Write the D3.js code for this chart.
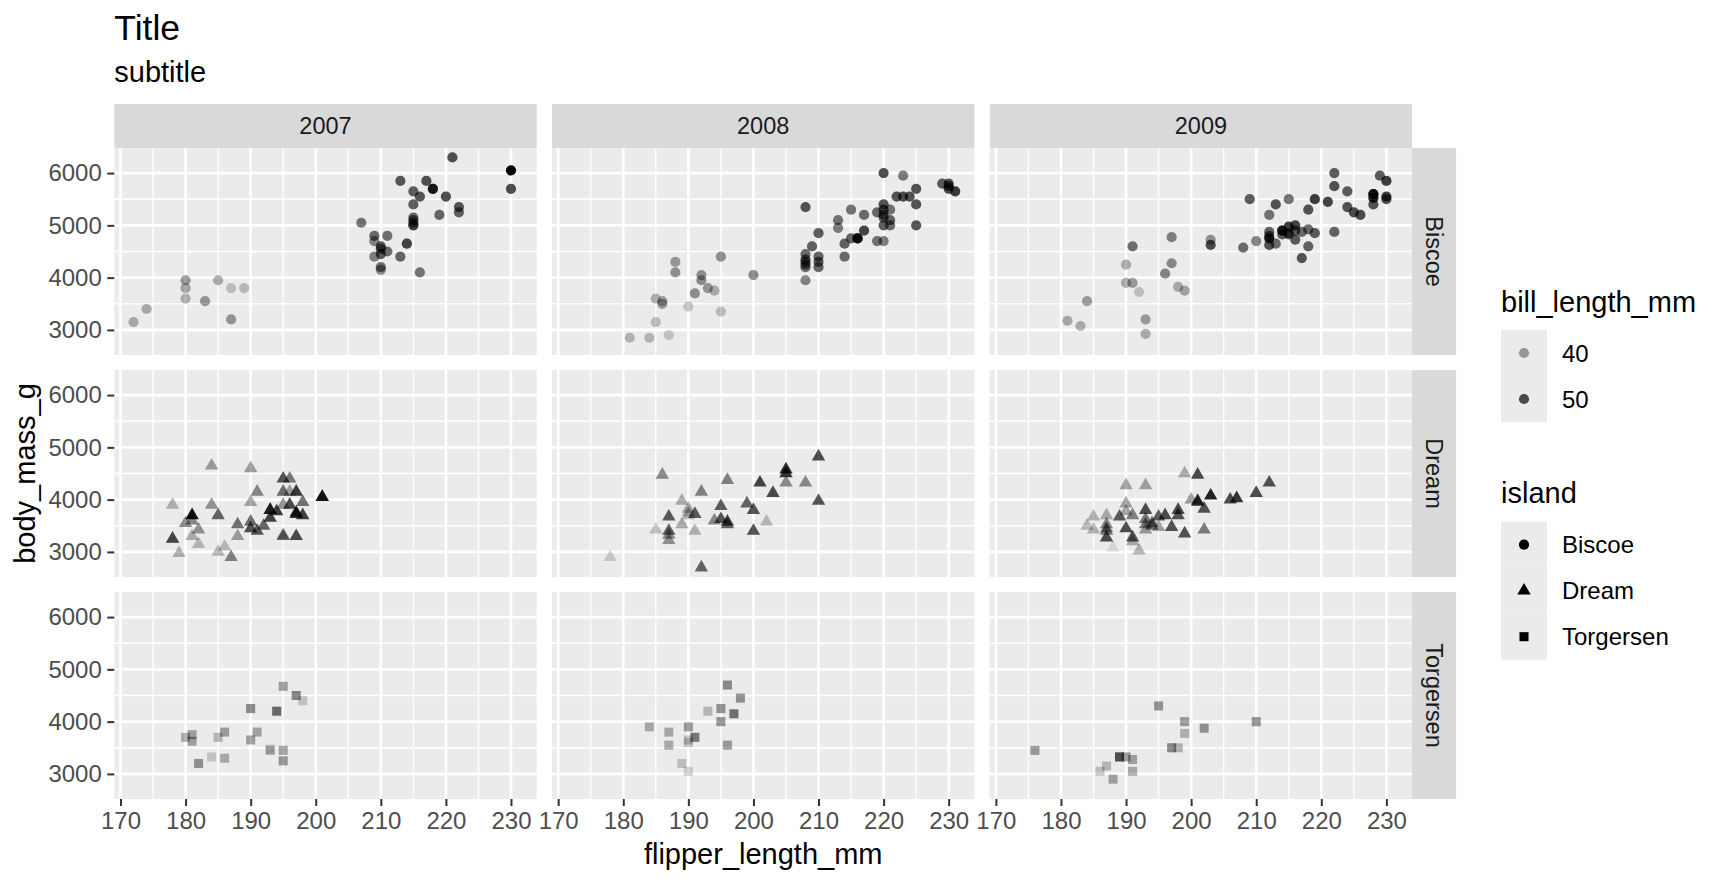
<!DOCTYPE html>
<html>
<head>
<meta charset="utf-8">
<script src="https://cdn.jsdelivr.net/npm/d3@7"></script>
<style>
  body { margin: 0; background: #fff; }
  text { font-family: "Liberation Sans", Arial, Helvetica, sans-serif; }
</style>
</head>
<body>
<div id="container"></div>
<script>
/* DATA */
const years = [2007, 2008, 2009];
const islands = ["Biscoe", "Dream", "Torgersen"];
const xTicks = [170, 180, 190, 200, 210, 220, 230];
const yTicks = [3000, 4000, 5000, 6000];
const billBreaks = [40, 50];

// each point: [flipper_length_mm, body_mass_g, bill_length_mm]
const biscoe2007 = [
  [174,3400,37.8],[180,3600,37.7],[189,3800,35.9],[185,3950,38.2],[180,3800,38.8],
  [187,3800,35.3],[183,3550,40.6],[187,3200,40.5],[172,3150,37.9],[180,3950,40.5],
  [211,4500,46.1],[230,5700,50.0],[210,4450,48.7],[218,5700,50.0],[215,5400,47.6],
  [210,4550,46.5],[211,4800,45.4],[219,5200,46.7],[209,4400,43.3],[215,5150,46.8],
  [214,4650,40.9],[216,5550,49.0],[214,4650,45.5],[213,5850,48.4],[210,4200,45.8],
  [217,5850,49.3],[210,4150,42.0],[221,6300,49.2],[209,4800,46.2],[222,5350,48.7],
  [218,5700,50.2],[215,5000,45.1],[213,4400,46.5],[215,5050,46.3],[215,5000,42.9],
  [215,5100,46.1],[216,4100,44.5],[215,5650,47.8],[210,4600,48.2],[220,5550,50.0],
  [222,5250,47.3],[209,4700,42.8],[207,5050,45.1],[230,6050,59.6]
];
const biscoe2008 = [
  [186,3500,39.6],[188,4300,40.1],[190,3450,35.0],[200,4050,42.0],[187,2900,34.5],
  [191,3700,41.4],[186,3550,39.0],[193,3800,40.6],[181,2850,36.5],[194,3750,37.6],
  [185,3150,35.7],[195,4400,41.3],[185,3600,37.6],[192,4050,41.1],[184,2850,36.4],
  [192,3950,41.6],[195,3350,35.5],[188,4100,41.1],
  [208,5350,49],[208,4450,46],[208,4350,47],[208,4250,45],[208,4200,46],[208,3950,43],
  [208,4300,46],[210,4400,47],[210,4300,48],[210,4200,47],[209,4600,47],[210,4850,48],
  [214,4650,47],[214,4400,46],[213,5100,45],[213,4950,44],[215,5300,45],[215,4750,47],
  [216,4750,55],[216,4750,50],[217,4900,51],[217,5200,46],[219,4700,45],[220,4700,44],
  [219,5250,46],[220,6000,50],[220,5400,49],[220,5300,49],[220,5200,48],[220,5150,47],
  [220,5000,48],[221,5300,45],[221,5100,47],[221,5000,46],[223,5950,44],[222,5550,49],
  [223,5550,50],[224,5550,49],[225,5700,49],[225,5400,49],[225,5000,49],[229,5800,48],
  [230,5800,49],[230,5750,50],[230,5700,50],[231,5650,52]
];
const biscoe2009 = [
  [192,3725,35.0],[203,4725,41.0],[183,3075,37.7],[190,4250,37.8],[193,2925,37.9],
  [184,3550,39.7],[199,3750,38.6],[190,3900,38.2],[181,3175,38.1],[197,4775,43.2],
  [198,3825,38.1],[191,4600,45.6],[193,3200,39.7],[197,4275,42.2],[191,3900,39.6],
  [196,4075,42.7],
  [203,4625,50],[208,4575,46],[210,4700,43],[209,5500,48],[212,5200,45],[212,4875,47],
  [212,4750,54],[212,4625,49],[212,4800,47],[213,4650,46],[213,5400,49],[214,4900,52],
  [214,4825,48],[214,4900,48],[215,4975,52],[215,5500,45],[215,4825,48],[215,4850,47],
  [216,5000,51],[216,4725,48],[216,4900,48],[217,4875,46],[217,4375,49],[218,5300,49],
  [218,4925,46],[218,4600,47],[219,5500,52],[219,4850,48],[221,5450,51],[222,6000,48],
  [222,5750,49],[222,4875,47],[224,5650,48],[224,5350,49],[225,5250,50],[226,5200,50],
  [228,5600,53],[228,5525,55],[228,5400,49],[228,5600,52],[229,5950,48],[230,5850,52],
  [230,5550,52],[230,5500,49]
];
const dream2007 = [
  [178,3250,39.5],[178,3900,37.2],[188,3300,39.5],[184,3900,40.9],[195,3325,36.4],
  [196,4150,39.2],[190,3950,38.8],[180,3550,42.2],[181,3300,37.6],[184,4650,39.8],
  [182,3150,36.5],[195,3900,40.8],[186,3100,36.0],[196,4400,44.1],[185,3000,37.0],
  [190,4600,39.6],[182,3425,41.1],[179,2975,37.5],[190,3450,36.0],[191,4150,42.3],
  [192,3500,46.5],[196,3900,50.0],[193,3650,51.3],[188,3525,45.4],[197,3725,52.7],
  [198,3950,45.2],[178,3250,46.1],[197,3750,51.3],[195,4150,46.0],[198,3700,51.3],
  [193,3800,46.6],[194,3775,51.7],[185,3700,47.0],[201,4050,52.0],[190,3575,45.9],
  [201,4050,50.5],[197,3300,50.3],[181,3700,58.0],[190,3450,46.4],[195,4400,49.2],
  [181,3600,42.4],[191,3400,48.5],[187,2900,43.2],[193,3800,50.6],[195,3300,46.7],
  [197,4150,52.0]
];
const dream2008 = [
  [178,2900,34],[186,4475,42],[196,4375,43],[192,4150,43],[189,3975,38],[190,3825,38],
  [190,3750,37],[190,3700,36],[191,3725,48],[187,3675,48],[185,3425,35],[187,3400,47],
  [187,3325,42],[187,3225,41],[189,3525,38],[191,3400,37],[195,3875,48],[194,3600,42],
  [195,3625,49],[196,3575,50],[196,3525,47],[192,2700,46.9],[199,3925,47],[200,3800,49],
  [200,3400,49],[202,3575,36],[201,4325,51],[203,4125,50],[205,4575,54],[205,4500,53],
  [205,4325,42],[208,4325,42],[210,4825,50],[210,3975,49]
];
const dream2009 = [
  [199,4500,38],[201,4475,50],[190,4275,39],[193,4275,39],[212,4325,49],[210,4125,50],
  [203,4075,55],[206,4000,50],[207,4025,53],[200,4000,40],[201,3975,50],[201,3950,48],
  [202,3825,49],[190,3925,39],[190,3775,39],[193,3800,50],[198,3800,50],[198,3700,49],
  [196,3700,50],[195,3675,48],[189,3675,48],[187,3700,38],[185,3675,37],[184,3500,36],
  [185,3425,37],[187,3525,42],[187,3450,43],[187,3400,44],[187,3275,50],[190,3450,50],
  [191,3275,49],[191,3200,38],[192,3025,37],[188,3075,32.1],[193,3625,44],[193,3525,44],
  [193,3425,40],[194,3550,44],[194,3500,45],[195,3475,39],[197,3475,49],[199,3350,49],
  [202,3425,44],[191,3700,43]
];
const torgersen2007 = [
  [181,3750,39.1],[186,3800,39.5],[195,3250,40.3],[193,3450,36.7],[190,3650,39.3],
  [181,3625,38.9],[195,4675,39.2],[193,3475,34.1],[190,4250,42.0],[186,3300,37.8],
  [180,3700,37.8],[182,3200,41.1],[191,3800,38.6],[198,4400,34.6],[185,3700,36.6],
  [195,3450,38.7],[197,4500,42.5],[184,3325,34.4],[194,4200,46.0]
];
const torgersen2008 = [
  [196,4700,42],[198,4450,41],[195,4250,41],[193,4200,36],[197,4150,45],[195,4000,41],
  [184,3900,38],[187,3800,38],[190,3900,40],[190,3650,35],[191,3700,44],[190,3600,35],
  [187,3550,38],[196,3550,40],[189,3200,35],[190,3050,34]
];
const torgersen2009 = [
  [176,3450,40],[195,4300,41],[199,4000,40],[199,3775,37],[202,3875,41],[210,4000,41],
  [197,3500,42],[198,3500,37],[189,3325,43],[189,3325,41],[190,3325,40],[191,3275,39],
  [191,3050,38],[187,3150,36],[186,3050,35],[188,2900,39]
];

const facetData = {
  Biscoe:    { 2007: biscoe2007,    2008: biscoe2008,    2009: biscoe2009 },
  Dream:     { 2007: dream2007,     2008: dream2008,     2009: dream2009 },
  Torgersen: { 2007: torgersen2007, 2008: torgersen2008, 2009: torgersen2009 }
};

/* LAYOUT */
const width = 1728, height = 883;
const panelLeft = 114.3, panelTop = 148;
const panelW = 422.4, panelH = 207;
const colGap = 15.3, rowGap = 15, stripSize = 44;
const font = '"Liberation Sans", Arial, Helvetica, sans-serif';

const all = [];
islands.forEach(island => years.forEach(year => {
  facetData[island][year].forEach(d => all.push({ island, year, flipper: d[0], mass: d[1], bill: d[2] }));
}));

// ggplot style 5% expansion
function expand(ext) {
  const p = (ext[1] - ext[0]) * 0.05;
  return [ext[0] - p, ext[1] + p];
}

/* SCALES */
const x = d3.scaleLinear().domain(expand(d3.extent(all, d => d.flipper))).range([0, panelW]);
const y = d3.scaleLinear().domain(expand(d3.extent(all, d => d.mass))).range([panelH, 0]);
const alpha = d3.scaleLinear().domain(d3.extent(all, d => d.bill)).range([0.1, 1]);
const shape = d3.scaleOrdinal().domain(islands).range([d3.symbolCircle, d3.symbolTriangle, d3.symbolSquare]);
const shapeSize = d3.scaleOrdinal().domain(islands).range([82, 78, 82]);

const inside = (s, v) => v > s.domain()[0] && v < s.domain()[1];
const xMinor = xTicks.slice(0, -1).map((t, i) => (t + xTicks[i + 1]) / 2)
  .concat([xTicks[0] - 5, xTicks[xTicks.length - 1] + 5]).filter(v => inside(x, v));
const yMinor = yTicks.slice(0, -1).map((t, i) => (t + yTicks[i + 1]) / 2)
  .concat([yTicks[0] - 500, yTicks[yTicks.length - 1] + 500]).filter(v => inside(y, v));

const colX = c => panelLeft + c * (panelW + colGap);
const rowY = r => panelTop + r * (panelH + rowGap);

/* SVG */
const svg = d3.select("#container").append("svg")
  .attr("width", width).attr("height", height)
  .style("font-family", font);

// title + subtitle
svg.append("text").attr("x", panelLeft).attr("y", 40)
  .style("font-size", "35.5px").attr("fill", "#000").text("Title");
svg.append("text").attr("x", panelLeft).attr("y", 82)
  .style("font-size", "29px").attr("fill", "#000").text("subtitle");

// panels
islands.forEach((island, r) => {
  years.forEach((year, c) => {
    const g = svg.append("g").attr("transform", `translate(${colX(c)},${rowY(r)})`);
    g.append("rect").attr("width", panelW).attr("height", panelH).attr("fill", "#EBEBEB");

    g.selectAll(".xminor").data(xMinor).enter().append("line")
      .attr("x1", d => x(d)).attr("x2", d => x(d)).attr("y1", 0).attr("y2", panelH)
      .attr("stroke", "#fff").attr("stroke-width", 1.3);
    g.selectAll(".yminor").data(yMinor).enter().append("line")
      .attr("y1", d => y(d)).attr("y2", d => y(d)).attr("x1", 0).attr("x2", panelW)
      .attr("stroke", "#fff").attr("stroke-width", 1.3);
    g.selectAll(".xmajor").data(xTicks).enter().append("line")
      .attr("x1", d => x(d)).attr("x2", d => x(d)).attr("y1", 0).attr("y2", panelH)
      .attr("stroke", "#fff").attr("stroke-width", 2.6);
    g.selectAll(".ymajor").data(yTicks).enter().append("line")
      .attr("y1", d => y(d)).attr("y2", d => y(d)).attr("x1", 0).attr("x2", panelW)
      .attr("stroke", "#fff").attr("stroke-width", 2.6);

    const pts = all.filter(d => d.island === island && d.year === year);
    g.selectAll("path.pt").data(pts).enter().append("path")
      .attr("class", "pt")
      .attr("transform", d => `translate(${x(d.flipper)},${y(d.mass)})`)
      .attr("d", d => d3.symbol().type(shape(d.island)).size(shapeSize(d.island))())
      .attr("fill", "#000")
      .attr("fill-opacity", d => alpha(d.bill));
  });
});

// axis styling helper
function styleAxis(sel) {
  sel.select(".domain").remove();
  sel.selectAll(".tick line").attr("stroke", "#333333").attr("stroke-width", 2);
  sel.selectAll(".tick text").attr("fill", "#4D4D4D")
    .style("font-size", "24px").style("font-family", font);
}

// y axes
islands.forEach((island, r) => {
  svg.append("g").attr("transform", `translate(${panelLeft},${rowY(r)})`)
    .call(d3.axisLeft(y).tickValues(yTicks).tickSize(7).tickPadding(5.5).tickFormat(d3.format("d")))
    .call(styleAxis);
});
// x axes
years.forEach((year, c) => {
  svg.append("g").attr("transform", `translate(${colX(c)},${rowY(2) + panelH})`)
    .call(d3.axisBottom(x).tickValues(xTicks).tickSize(7).tickPadding(6).tickFormat(d3.format("d")))
    .call(styleAxis);
});

// top strips
years.forEach((year, c) => {
  svg.append("rect").attr("x", colX(c)).attr("y", panelTop - stripSize)
    .attr("width", panelW).attr("height", stripSize).attr("fill", "#D9D9D9");
  svg.append("text").attr("x", colX(c) + panelW / 2).attr("y", panelTop - stripSize / 2)
    .attr("text-anchor", "middle").attr("dy", "0.36em")
    .style("font-size", "23.5px").attr("fill", "#1A1A1A").text(year);
});
// right strips
const stripX = colX(2) + panelW;
islands.forEach((island, r) => {
  svg.append("rect").attr("x", stripX).attr("y", rowY(r))
    .attr("width", stripSize).attr("height", panelH).attr("fill", "#D9D9D9");
  svg.append("text")
    .attr("transform", `translate(${stripX + stripSize / 2},${rowY(r) + panelH / 2}) rotate(90)`)
    .attr("text-anchor", "middle").attr("dy", "0.36em")
    .style("font-size", "23.5px").attr("fill", "#1A1A1A").text(island);
});

// axis titles
svg.append("text").attr("x", panelLeft + (stripX - panelLeft) / 2).attr("y", 864)
  .attr("text-anchor", "middle").style("font-size", "29px").attr("fill", "#000")
  .text("flipper_length_mm");
svg.append("text")
  .attr("transform", `translate(35,${panelTop + (rowY(2) + panelH - panelTop) / 2}) rotate(-90)`)
  .attr("text-anchor", "middle").style("font-size", "29px").attr("fill", "#000")
  .text("body_mass_g");

/* LEGENDS */
const legX = 1501, keySize = 46, labelX = 1562;

// bill_length_mm
svg.append("text").attr("x", legX).attr("y", 312)
  .style("font-size", "29px").attr("fill", "#000").text("bill_length_mm");
const leg1 = svg.append("g").attr("transform", `translate(${legX},330)`);
billBreaks.forEach((b, i) => {
  leg1.append("rect").attr("x", 0).attr("y", i * keySize)
    .attr("width", keySize).attr("height", keySize).attr("fill", "#EBEBEB");
  leg1.append("path")
    .attr("transform", `translate(${keySize / 2},${i * keySize + keySize / 2})`)
    .attr("d", d3.symbol().type(d3.symbolCircle).size(82)())
    .attr("fill", "#000").attr("fill-opacity", alpha(b));
  leg1.append("text").attr("x", labelX - legX).attr("y", i * keySize + keySize / 2)
    .attr("dy", "0.36em").style("font-size", "24px").attr("fill", "#000").text(b);
});

// island
svg.append("text").attr("x", legX).attr("y", 503)
  .style("font-size", "29px").attr("fill", "#000").text("island");
const leg2 = svg.append("g").attr("transform", `translate(${legX},521.7)`);
islands.forEach((island, i) => {
  leg2.append("rect").attr("x", 0).attr("y", i * keySize)
    .attr("width", keySize).attr("height", keySize).attr("fill", "#EBEBEB");
  leg2.append("path")
    .attr("transform", `translate(${keySize / 2},${i * keySize + keySize / 2})`)
    .attr("d", d3.symbol().type(shape(island)).size(shapeSize(island))())
    .attr("fill", "#000");
  leg2.append("text").attr("x", labelX - legX).attr("y", i * keySize + keySize / 2)
    .attr("dy", "0.36em").style("font-size", "24px").attr("fill", "#000").text(island);
});
</script>
</body>
</html>
